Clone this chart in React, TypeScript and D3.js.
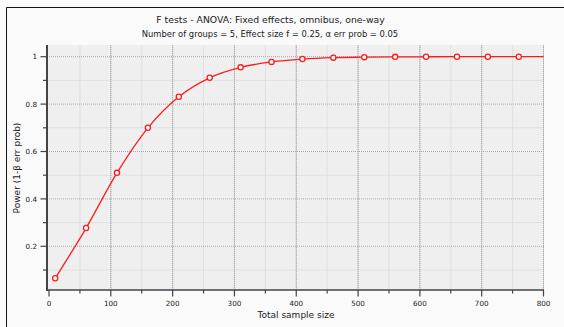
import { useEffect, useRef } from 'react';
import * as d3 from 'd3';

// total sample size at each plotted marker
const sampleSizes = [10, 60, 110, 160, 210, 260, 310, 360, 410, 460, 510, 560, 610, 660, 710, 760];
// power (1-β err prob)
const powerValues = [0.065, 0.277, 0.51, 0.70, 0.831, 0.911, 0.955, 0.978, 0.99, 0.996, 0.998, 0.9993, 0.9997, 0.9999, 1.0, 1.0];
// the curve keeps going to the right edge without a marker
const curveEnd: [number, number] = [800, 1.0];

const xMajor = [0, 100, 200, 300, 400, 500, 600, 700, 800];
const xMinor = [50, 150, 250, 350, 450, 550, 650, 750];
const yMajor = [0.2, 0.4, 0.6, 0.8, 1];
const yMinor = [0.1, 0.3, 0.5, 0.7, 0.9];

const title = 'F tests - ANOVA: Fixed effects, omnibus, one-way';
const subtitle = 'Number of groups = 5, Effect size f = 0.25, α err prob = 0.05';
const xTitle = 'Total sample size';
const yTitle = 'Power (1-β err prob)';

const FONT = '"DejaVu Sans", Verdana, sans-serif';

function PowerChart({ width = 564, height = 327 }: { width?: number; height?: number }) {
  const svgRef = useRef<SVGSVGElement>(null);

  useEffect(() => {
    if (!svgRef.current) return;
    const svg = d3.select(svgRef.current);
    svg.selectAll('*').remove();
    svg.attr('width', width).attr('height', height).style('font-family', FONT);

    const left = 47, right = 544, top = 45, bottom = 290;
    const x = d3.scaleLinear().domain([0, 800]).range([49, 543.5]);
    const y = d3.scaleLinear().domain([0, 1]).range([293.7, 56.7]);

    svg.append('rect').attr('width', width).attr('height', height).attr('fill', '#fafafa');
    // window frame (only top & left edges visible)
    svg.append('line').attr('x1', 6.5).attr('y1', 7.5).attr('x2', width).attr('y2', 7.5)
      .attr('stroke', '#111').attr('stroke-width', 1);
    svg.append('line').attr('x1', 6.5).attr('y1', 7.5).attr('x2', 6.5).attr('y2', height)
      .attr('stroke', '#111').attr('stroke-width', 1);

    svg.append('rect').attr('x', left).attr('y', top).attr('width', right - left).attr('height', bottom - top)
      .attr('fill', '#efefef');

    const g = svg.append('g');
    // minor grid
    g.selectAll('.vmin').data(xMinor).join('line')
      .attr('x1', d => x(d)).attr('x2', d => x(d)).attr('y1', top).attr('y2', bottom)
      .attr('stroke', '#e0e0e0').attr('stroke-width', 1);
    g.selectAll('.hmin').data(yMinor).join('line')
      .attr('x1', left).attr('x2', right).attr('y1', d => y(d)).attr('y2', d => y(d))
      .attr('stroke', '#e0e0e0').attr('stroke-width', 1);
    // major grid
    g.selectAll('.vmaj').data(xMajor.slice(1)).join('line')
      .attr('x1', d => x(d)).attr('x2', d => x(d)).attr('y1', top).attr('y2', bottom)
      .attr('stroke', '#d0d0d0').attr('stroke-width', 1);
    g.selectAll('.vmajd').data(xMajor.slice(1)).join('line')
      .attr('x1', d => x(d)).attr('x2', d => x(d)).attr('y1', top).attr('y2', bottom)
      .attr('stroke', '#a8a8a8').attr('stroke-width', 1).attr('stroke-dasharray', '1,1');
    g.selectAll('.hmaj').data(yMajor).join('line')
      .attr('x1', left).attr('x2', right).attr('y1', d => y(d)).attr('y2', d => y(d))
      .attr('stroke', '#a8a8a8').attr('stroke-width', 1).attr('stroke-dasharray', '1,1');

    // axes
    const axisColor = '#444';
    svg.append('line').attr('x1', left).attr('x2', left).attr('y1', top).attr('y2', bottom + 1)
      .attr('stroke', axisColor).attr('stroke-width', 2);
    svg.append('line').attr('x1', left).attr('x2', right).attr('y1', bottom).attr('y2', bottom)
      .attr('stroke', axisColor).attr('stroke-width', 1.5);

    svg.selectAll('.xt').data(xMajor).join('line')
      .attr('x1', d => x(d)).attr('x2', d => x(d)).attr('y1', bottom).attr('y2', bottom + 6.5)
      .attr('stroke', axisColor).attr('stroke-width', 1.2);
    svg.selectAll('.xtm').data(xMinor).join('line')
      .attr('x1', d => x(d)).attr('x2', d => x(d)).attr('y1', bottom).attr('y2', bottom + 3.5)
      .attr('stroke', axisColor).attr('stroke-width', 1.2);
    svg.selectAll('.yt').data(yMajor).join('line')
      .attr('x1', left - 6.5).attr('x2', left).attr('y1', d => y(d)).attr('y2', d => y(d))
      .attr('stroke', axisColor).attr('stroke-width', 1.2);
    svg.selectAll('.ytm').data(yMinor).join('line')
      .attr('x1', left - 4).attr('x2', left).attr('y1', d => y(d)).attr('y2', d => y(d))
      .attr('stroke', axisColor).attr('stroke-width', 1.2);

    svg.selectAll('.xl').data(xMajor).join('text')
      .attr('x', d => x(d)).attr('y', 306).attr('text-anchor', 'middle')
      .attr('font-size', 7.2).attr('fill', '#222').text(d => String(d));
    svg.selectAll('.yl').data(yMajor).join('text')
      .attr('x', 37).attr('y', d => y(d) + 2.7).attr('text-anchor', 'end')
      .attr('font-size', 7.2).attr('fill', '#222').text(d => String(d));

    svg.append('text').attr('x', 296).attr('y', 317.5).attr('text-anchor', 'middle')
      .attr('font-size', 9).attr('fill', '#222').text(xTitle);
    svg.append('text').attr('transform', 'translate(19.6,168) rotate(-90)').attr('text-anchor', 'middle')
      .attr('font-size', 9).attr('fill', '#222').text(yTitle);

    svg.append('text').attr('x', 270.5).attr('y', 22.5).attr('text-anchor', 'middle')
      .attr('font-size', 9.3).attr('fill', '#222').text(title);
    svg.append('text').attr('x', 270).attr('y', 36.5).attr('text-anchor', 'middle')
      .attr('font-size', 8.4).attr('fill', '#222').text(subtitle);

    const pts: [number, number][] = sampleSizes.map((n, i) => [n, powerValues[i]]);
    const line = d3.line<[number, number]>().x(d => x(d[0])).y(d => y(d[1])).curve(d3.curveMonotoneX);
    svg.append('path').datum([...pts, curveEnd]).attr('fill', 'none')
      .attr('stroke', '#ff1a1a').attr('stroke-width', 1.3).attr('d', line);
    svg.selectAll('.pt').data(pts).join('circle')
      .attr('cx', d => x(d[0])).attr('cy', d => y(d[1])).attr('r', 2.6)
      .attr('fill', '#fff').attr('stroke', '#ff1a1a').attr('stroke-width', 1.3);
  }, [width, height]);

  return <svg ref={svgRef} style={{ display: 'block' }} />;
}

export default function App() {
  return (
    <div style={{ position: 'absolute', left: 0, top: 0 }}>
      <PowerChart />
    </div>
  );
}
